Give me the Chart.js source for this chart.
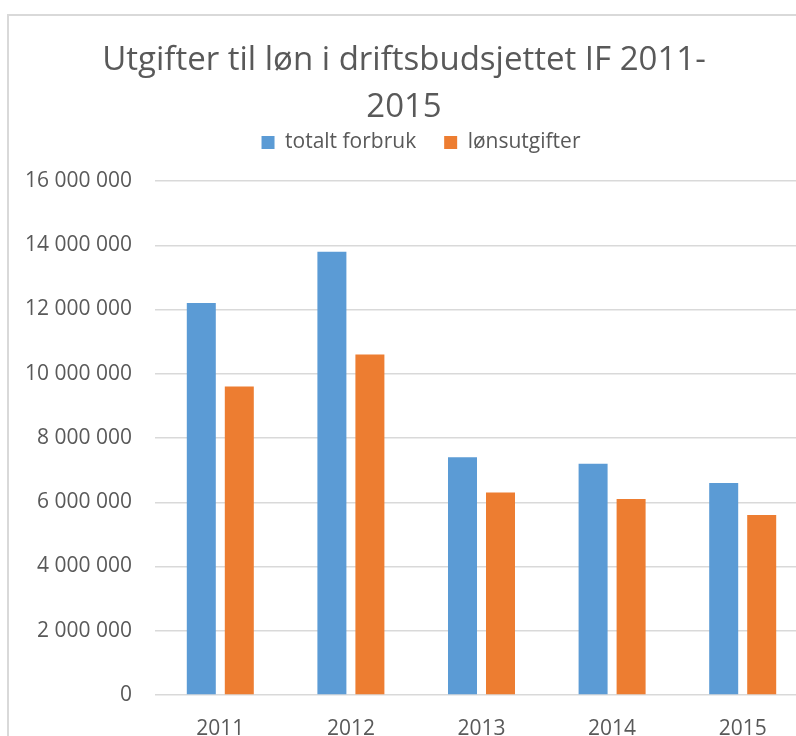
<!DOCTYPE html>
<html>
<head>
<meta charset="utf-8">
<script src="https://cdn.jsdelivr.net/npm/chart.js@4.4.1/dist/chart.umd.min.js"></script>
<style>
  html, body { margin: 0; padding: 0; overflow: hidden; background: #fff; }
  #frame { position: absolute; left: 7px; top: 14px; width: 2000px; height: 2000px; border: 2px solid #d9d9d9; }
  #chart { position: absolute; left: 0; top: 0; }
</style>
</head>
<body>
<div id="frame"></div>
<canvas id="chart" width="814" height="780"></canvas>
<script>
const years = ["2011", "2012", "2013", "2014", "2015"];
const totaltForbruk = [12200000, 13800000, 7400000, 7200000, 6600000];
const lonsutgifter = [9600000, 10600000, 6300000, 6100000, 5600000];
const yMax = 16000000;
const yStep = 2000000;

const textColor = "#595959";
const font = "'Open Sans', 'DejaVu Sans', sans-serif";

function spaced(v) {
  return v.toString().replace(/\B(?=(\d{3})+(?!\d))/g, " ");
}

// legend in the original sits a little right of the title centre
const legendShift = {
  id: "legendShift",
  afterLayout(chart) {
    chart.legend.left += 17;
    chart.legend.right += 17;
  }
};

const ctx = document.getElementById("chart").getContext("2d");
new Chart(ctx, {
  type: "bar",
  data: {
    labels: years,
    datasets: [
      { label: "totalt forbruk", data: totaltForbruk, backgroundColor: "#5b9bd5" },
      { label: "lønsutgifter", data: lonsutgifter, backgroundColor: "#ed7d31" }
    ]
  },
  plugins: [legendShift],
  options: {
    responsive: false,
    animation: false,
    devicePixelRatio: 1,
    layout: { padding: { left: 0, right: 6, top: 0, bottom: 0 } },
    datasets: { bar: { categoryPercentage: 0.582, barPercentage: 0.763 } },
    plugins: {
      title: {
        display: true,
        text: ["Utgifter til løn i driftsbudsjettet IF 2011-", "2015"],
        color: textColor,
        font: { family: font, size: 33, weight: "normal", lineHeight: 47 / 33 },
        padding: { top: 37.5, bottom: -27.5 }
      },
      subtitle: {
        display: true,
        text: "",
        weight: 100,
        font: { size: 1, lineHeight: 1 },
        padding: { top: 0, bottom: 17 }
      },
      legend: {
        labels: {
          color: textColor,
          boxWidth: 13,
          boxHeight: 13,
          padding: 28,
          font: { family: font, size: 21 }
        }
      },
      tooltip: { enabled: false }
    },
    scales: {
      x: {
        grid: { display: false },
        border: { display: false },
        ticks: { color: textColor, font: { family: font, size: 21 }, padding: 13 },
        afterFit: s => { s.height = 85; }
      },
      y: {
        min: 0,
        max: yMax,
        ticks: {
          stepSize: yStep,
          color: textColor,
          padding: 23,
          font: { family: font, size: 21 },
          callback: v => spaced(v)
        },
        grid: { color: "#d9d9d9", lineWidth: 1.5, drawTicks: false },
        border: { display: false },
        afterFit: s => { s.width = 155; }
      }
    }
  }
});
</script>
</body>
</html>
